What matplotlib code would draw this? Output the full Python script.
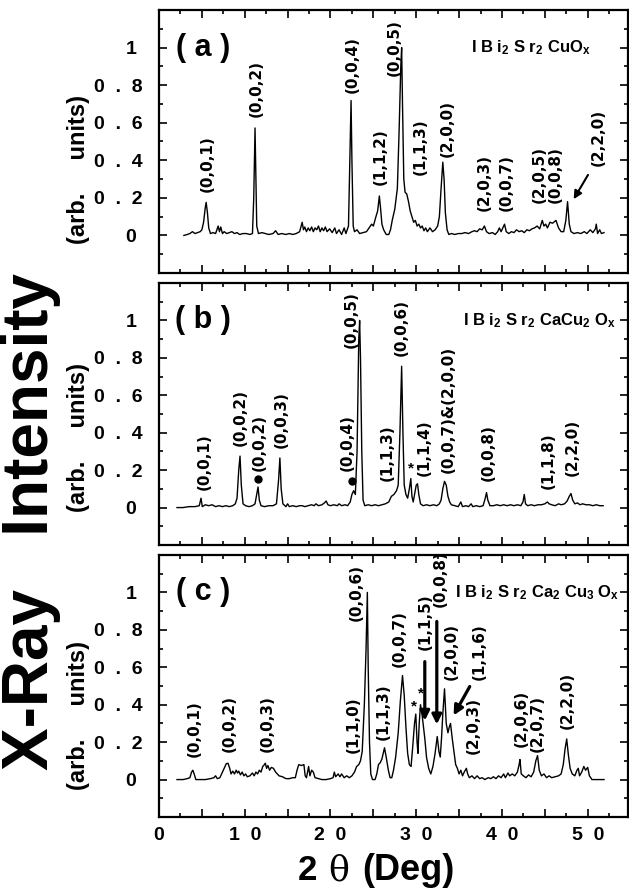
import numpy as np
import matplotlib
matplotlib.use('Agg')
import matplotlib.pyplot as plt
from matplotlib.ticker import MultipleLocator, FixedLocator, FuncFormatter

plt.rcParams['font.family'] = ['Liberation Sans', 'DejaVu Sans']
plt.rcParams['font.weight'] = 'bold'
plt.rcParams['mathtext.fontset'] = 'custom'
plt.rcParams['mathtext.rm'] = 'Liberation Sans:bold'
plt.rcParams['mathtext.it'] = 'Liberation Sans:bold'
plt.rcParams['mathtext.bf'] = 'Liberation Sans:bold'
plt.rcParams['mathtext.default'] = 'rm'

# Datos: 2theta (grados) e intensidad normalizada
x_a = [2.9, 3.3, 3.6, 3.9, 4.2, 4.5, 4.8, 5.0, 5.2, 5.4, 5.5, 5.65, 5.8, 6.0, 6.3, 6.6, 6.9, 7.05, 7.2, 7.4,
       7.6, 7.9, 8.2, 8.5, 8.8, 9.1, 9.4, 9.8, 10.2, 10.6, 10.9, 11.05, 11.2, 11.3, 11.4, 11.6, 12.0, 12.4, 12.8, 13.3,
       13.6, 13.9, 14.3, 14.8, 15.2, 15.6, 16.0, 16.4, 16.7, 16.85, 17.0, 17.2, 17.4, 17.6, 17.8, 18.0, 18.2, 18.4, 18.6, 18.8,
       19.0, 19.2, 19.4, 19.6, 19.9, 20.2, 20.5, 20.7, 21.0, 21.3, 21.6, 21.8, 22.1, 22.3, 22.4, 22.5, 22.65, 22.8, 23.1, 23.4,
       23.8, 24.2, 24.5, 24.8, 25.0, 25.3, 25.5, 25.7, 25.85, 26.0, 26.2, 26.5, 26.8, 27.0, 27.2, 27.5, 27.8, 28.0, 28.2, 28.3,
       28.4, 28.55, 28.7, 28.9, 29.1, 29.3, 29.5, 29.7, 29.9, 30.1, 30.3, 30.5, 30.7, 30.9, 31.1, 31.3, 31.6, 31.9, 32.2, 32.5,
       32.7, 32.9, 33.1, 33.25, 33.4, 33.6, 33.8, 34.1, 34.5, 34.9, 35.3, 35.7, 36.1, 36.5, 36.8, 37.1, 37.4, 37.7, 37.95, 38.2,
       38.5, 38.9, 39.2, 39.5, 39.7, 39.9, 40.3, 40.5, 40.8, 41.1, 41.4, 41.7, 42.0, 42.3, 42.6, 42.9, 43.2, 43.5, 43.8, 44.1,
       44.4, 44.7, 44.9, 45.1, 45.3, 45.6, 45.9, 46.3, 46.6, 46.9, 47.2, 47.45, 47.65, 47.85, 48.05, 48.4, 48.8, 49.2, 49.6, 49.9,
       50.3, 50.6, 50.9, 51.0, 51.15, 51.4, 51.6, 51.9]
y_a = [0.0, 0.005, 0.01, 0.02, 0.01, 0.015, 0.02, 0.03, 0.07, 0.15, 0.176, 0.12, 0.04, 0.01, 0.015, 0.01, 0.05, 0.02, 0.045, 0.01,
       0.02, 0.01, 0.015, 0.02, 0.01, 0.015, 0.005, 0.01, 0.01, 0.005, 0.01, 0.2, 0.572, 0.3, 0.05, 0.01, 0.015, 0.01, 0.005, 0.01,
       0.025, 0.005, 0.01, 0.005, 0.01, 0.005, 0.01, 0.02, 0.07, 0.03, 0.045, 0.02, 0.04, 0.025, 0.045, 0.02, 0.04, 0.03, 0.05, 0.02,
       0.04, 0.025, 0.045, 0.02, 0.035, 0.015, 0.04, 0.01, 0.03, 0.005, 0.04, 0.01, 0.05, 0.5, 0.718, 0.4, 0.05, 0.02, 0.03, 0.01,
       0.015, 0.02, 0.04, 0.06, 0.05, 0.1, 0.13, 0.21, 0.14, 0.06, 0.03, 0.005, 0.005, 0.03, 0.08, 0.14, 0.25, 0.55, 0.9, 1.0,
       0.7, 0.3, 0.23, 0.22, 0.18, 0.13, 0.1, 0.07, 0.08, 0.05, 0.06, 0.04, 0.05, 0.025, 0.04, 0.02, 0.04, 0.02, 0.03, 0.05,
       0.1, 0.25, 0.39, 0.3, 0.12, 0.03, 0.005, 0.01, 0.005, 0.01, 0.01, 0.015, 0.01, 0.02, 0.025, 0.02, 0.035, 0.03, 0.05, 0.02,
       0.01, 0.015, 0.005, 0.02, 0.04, 0.02, 0.06, 0.02, 0.01, 0.02, 0.015, 0.03, 0.02, 0.025, 0.015, 0.03, 0.025, 0.035, 0.04, 0.05,
       0.035, 0.08, 0.05, 0.06, 0.04, 0.07, 0.065, 0.08, 0.04, 0.02, 0.02, 0.08, 0.18, 0.06, 0.02, 0.01, 0.015, 0.01, 0.02, 0.01,
       0.03, 0.015, 0.035, 0.06, 0.01, 0.03, 0.01, 0.015]

x_b = [2.1, 2.8, 3.5, 4.2, 4.7, 4.9, 5.05, 5.4, 5.8, 6.2, 6.6, 7.0, 7.4, 7.8, 8.2, 8.6, 8.9, 9.1, 9.3, 9.45,
       9.6, 9.8, 10.1, 10.5, 10.9, 11.2, 11.4, 11.55, 11.7, 11.9, 12.3, 12.8, 13.3, 13.7, 13.95, 14.1, 14.25, 14.45, 14.8, 15.0,
       15.2, 15.6, 16.0, 16.4, 16.7, 17.0, 17.4, 17.8, 18.1, 18.3, 18.6, 19.0, 19.3, 19.5, 19.7, 20.0, 20.4, 20.8, 21.0, 21.3,
       21.7, 22.0, 22.3, 22.5, 22.7, 22.9, 23.1, 23.3, 23.4, 23.5, 23.65, 23.8, 24.0, 24.4, 24.8, 25.2, 25.6, 26.0, 26.4, 26.8,
       27.1, 27.4, 27.7, 27.9, 28.1, 28.3, 28.45, 28.6, 28.8, 29.0, 29.2, 29.37, 29.5, 29.65, 29.8, 30.0, 30.15, 30.3, 30.5, 30.8,
       31.2, 31.6, 32.0, 32.4, 32.7, 32.9, 33.1, 33.3, 33.5, 33.7, 33.9, 34.1, 34.5, 34.9, 35.2, 35.4, 35.8, 36.1, 36.4, 36.6,
       37.0, 37.4, 37.8, 38.05, 38.2, 38.35, 38.6, 39.0, 39.4, 39.8, 40.2, 40.6, 41.0, 41.4, 41.8, 42.2, 42.45, 42.6, 42.75, 43.0,
       43.4, 43.8, 44.2, 44.6, 45.0, 45.3, 45.5, 45.8, 46.2, 46.6, 46.9, 47.3, 47.6, 47.85, 48.05, 48.25, 48.5, 48.8, 49.1, 49.4,
       49.8, 50.2, 50.6, 51.0, 51.4, 51.8]
y_b = [0.0, 0.0, 0.005, 0.005, 0.01, 0.05, 0.005, 0.015, 0.01, 0.015, 0.005, 0.01, 0.005, 0.01, 0.005, 0.01, 0.02, 0.05, 0.2, 0.275,
       0.12, 0.02, 0.01, 0.005, 0.01, 0.02, 0.07, 0.11, 0.04, 0.01, 0.005, 0.01, 0.01, 0.02, 0.15, 0.265, 0.1, 0.02, 0.005, 0.02,
       0.005, 0.01, 0.005, 0.01, 0.01, 0.005, 0.01, 0.015, 0.01, 0.02, 0.01, 0.015, 0.025, 0.035, 0.015, 0.01, 0.015, 0.01, 0.02, 0.01,
       0.015, 0.01, 0.03, 0.07, 0.09, 0.07, 0.3, 0.9, 1.0, 0.8, 0.3, 0.04, 0.01, 0.015, 0.01, 0.015, 0.01, 0.015, 0.02, 0.03,
       0.06, 0.07, 0.09, 0.12, 0.4, 0.755, 0.4, 0.12, 0.07, 0.05, 0.1, 0.155, 0.06, 0.03, 0.07, 0.12, 0.127, 0.07, 0.02, 0.01,
       0.015, 0.01, 0.015, 0.01, 0.02, 0.04, 0.1, 0.14, 0.12, 0.06, 0.03, 0.015, 0.01, 0.005, 0.03, 0.005, 0.01, 0.005, 0.02, 0.005,
       0.01, 0.005, 0.01, 0.05, 0.08, 0.04, 0.01, 0.01, 0.015, 0.01, 0.015, 0.01, 0.015, 0.01, 0.015, 0.01, 0.03, 0.07, 0.02, 0.01,
       0.015, 0.01, 0.015, 0.015, 0.02, 0.03, 0.02, 0.015, 0.01, 0.02, 0.015, 0.02, 0.035, 0.06, 0.075, 0.04, 0.02, 0.025, 0.015, 0.02,
       0.015, 0.015, 0.01, 0.015, 0.01, 0.01]

x_c = [2.1, 2.8, 3.3, 3.6, 3.8, 3.95, 4.1, 4.3, 4.8, 5.4, 6.0, 6.4, 6.6, 6.8, 7.1, 7.3, 7.6, 7.85, 8.05, 8.25,
       8.4, 8.6, 8.8, 9.0, 9.15, 9.3, 9.5, 9.7, 9.9, 10.1, 10.3, 10.6, 10.9, 11.1, 11.3, 11.5, 11.7, 11.9, 12.1, 12.3,
       12.4, 12.55, 12.7, 12.9, 13.1, 13.35, 13.6, 13.8, 14.0, 14.4, 14.8, 15.2, 15.6, 15.9, 16.1, 16.3, 16.6, 16.9, 17.05, 17.2,
       17.45, 17.6, 17.8, 18.0, 18.2, 18.6, 19.0, 19.5, 20.0, 20.3, 20.45, 20.6, 20.9, 21.1, 21.3, 21.6, 21.9, 22.2, 22.5, 22.8,
       23.05, 23.3, 23.5, 23.7, 23.95, 24.15, 24.3, 24.4, 24.55, 24.7, 24.9, 25.2, 25.4, 25.6, 25.8, 26.0, 26.3, 26.5, 26.75, 26.95,
       27.15, 27.35, 27.6, 27.9, 28.15, 28.4, 28.6, 28.8, 29.0, 29.2, 29.4, 29.6, 29.8, 29.95, 30.1, 30.2, 30.35, 30.5, 30.65, 30.8,
       31.0, 31.2, 31.45, 31.7, 31.95, 32.2, 32.45, 32.65, 32.8, 32.95, 33.1, 33.3, 33.5, 33.7, 33.85, 34.0, 34.2, 34.4, 34.6, 34.8,
       35.0, 35.2, 35.4, 35.6, 35.85, 36.0, 36.2, 36.5, 36.8, 37.1, 37.4, 37.7, 38.0, 38.4, 38.7, 39.0, 39.3, 39.6, 39.9, 40.2,
       40.4, 40.7, 40.9, 41.2, 41.5, 41.8, 42.0, 42.1, 42.25, 42.5, 42.8, 43.1, 43.4, 43.7, 43.95, 44.15, 44.35, 44.6, 44.9, 45.2,
       45.5, 45.8, 46.2, 46.6, 46.9, 47.15, 47.35, 47.55, 47.75, 47.95, 48.2, 48.5, 48.75, 48.9, 49.05, 49.3, 49.55, 49.75, 50.0, 50.2,
       50.5, 51.0, 51.5, 51.9]
y_c = [0.0, 0.0, 0.005, 0.01, 0.04, 0.05, 0.03, 0.0, 0.0, 0.0, 0.005, 0.01, 0.02, 0.005, 0.01, 0.03, 0.06, 0.085, 0.087, 0.06,
       0.03, 0.045, 0.03, 0.05, 0.035, 0.045, 0.025, 0.04, 0.02, 0.03, 0.015, 0.02, 0.035, 0.02, 0.04, 0.03, 0.05, 0.04, 0.07, 0.08,
       0.087, 0.06, 0.075, 0.05, 0.065, 0.06, 0.04, 0.03, 0.02, 0.015, 0.005, 0.005, 0.01, 0.01, 0.05, 0.08, 0.075, 0.08, 0.02, 0.01,
       0.07, 0.02, 0.05, 0.04, 0.01, 0.005, 0.0, 0.0, 0.005, 0.01, 0.04, 0.015, 0.03, 0.015, 0.03, 0.01, 0.02, 0.01, 0.02, 0.04,
       0.07, 0.08, 0.1, 0.15, 0.4, 0.7, 1.0, 0.6, 0.2, 0.03, 0.0, 0.0, 0.03, 0.08, 0.09, 0.11, 0.17, 0.12, 0.05, 0.01,
       0.01, 0.05, 0.12, 0.25, 0.42, 0.556, 0.45, 0.28, 0.14, 0.08, 0.07, 0.18, 0.3, 0.35, 0.2, 0.14, 0.3, 0.4, 0.36, 0.3,
       0.22, 0.12, 0.06, 0.03, 0.07, 0.14, 0.23, 0.15, 0.12, 0.22, 0.35, 0.485, 0.3, 0.25, 0.28, 0.3, 0.22, 0.15, 0.08, 0.06,
       0.03, 0.05, 0.02, 0.04, 0.06, 0.03, 0.01, 0.02, 0.005, 0.02, 0.005, 0.01, 0.0, 0.01, 0.005, 0.015, 0.005, 0.02, 0.01, 0.03,
       0.01, 0.035, 0.02, 0.03, 0.02, 0.04, 0.08, 0.107, 0.03, 0.02, 0.01, 0.025, 0.015, 0.04, 0.1, 0.128, 0.05, 0.02, 0.03, 0.01,
       0.02, 0.01, 0.015, 0.02, 0.03, 0.08, 0.16, 0.217, 0.13, 0.06, 0.03, 0.02, 0.05, 0.06, 0.02, 0.04, 0.07, 0.05, 0.065, 0.02,
       0.0, 0.0, 0.0, 0.0]

# Etiquetas de los picos: (texto, posicion x, y inferior)
labels_a = [('(0,0,1)', 5.6, 0.23), ('(0,0,2)', 11.3, 0.63), ('(0,0,4)', 22.5, 0.76), ('(1,1,2)', 25.8, 0.27),
            ('(0,0,5)', 27.4, 0.85), ('(1,1,3)', 30.5, 0.32), ('(2,0,0)', 33.65, 0.415), ('(2,0,3)', 37.9, 0.13),
            ('(0,0,7)', 40.5, 0.13), ('(2,0,5)', 44.3, 0.17), ('(0,0,8)', 46.2, 0.17), ('(2,2,0)', 51.2, 0.37)]
labels_b = [('(0,0,1)', 5.25, 0.093), ('(0,0,2)', 9.5, 0.33), ('(0,0,2)', 11.7, 0.195), ('(0,0,3)', 14.2, 0.32),
            ('(0,0,4)', 22.0, 0.195), ('(0,0,5)', 22.4, 0.854), ('(1,1,3)', 26.65, 0.14), ('(0,0,6)', 28.2, 0.81),
            ('(1,1,4)', 30.9, 0.17), ('(0,0,7)&(2,0,0)', 33.77, 0.187), ('(0,0,8)', 38.4, 0.14),
            ('(1,1,8)', 45.4, 0.097), ('(2,2,0)', 48.2, 0.17)]
labels_c = [('(0,0,1)', 4.1, 0.12), ('(0,0,2)', 8.25, 0.146), ('(0,0,3)', 12.65, 0.146), ('(1,1,0)', 22.65, 0.14),
            ('(0,0,6)', 23.0, 0.85), ('(1,1,3)', 26.15, 0.21), ('(0,0,7)', 28.0, 0.6), ('(1,1,5)', 31.1, 0.69),
            ('(0,0,8)', 32.8, 0.92), ('(2,0,0)', 34.04, 0.53), ('(1,1,6)', 37.35, 0.53), ('(2,0,3)', 36.6, 0.137),
            ('(2,0,6)', 42.2, 0.173), ('(2,0,7)', 44.15, 0.146), ('(2,2,0)', 47.66, 0.27)]

# Flechas (inicio, punta) y marcas de impurezas
arrows_a = [((50.2, 0.335), (48.2, 0.18))]
arrows_c = [((31.0, 0.645), (31.0, 0.30)), ((32.4, 0.86), (32.4, 0.28)), ((36.4, 0.51), (34.2, 0.33))]
dots_b = [(11.6, 0.15), (22.5, 0.14)]
stars_b = [(29.4, 0.21)]
stars_c = [(29.75, 0.39), (30.54, 0.46)]

compounds = [r'I B i$_2$ S r$_2$ CuO$_x$', r'I B i$_2$ S r$_2$ CaCu$_2$ O$_x$',
             r'I B i$_2$ S r$_2$ Ca$_2$ Cu$_3$ O$_x$']
compound_x = [50.4, 53.3, 53.7]
panel_tags = ['( a )', '( b )', '( c )']

W, H = 629, 888
fig = plt.figure(figsize=(W / 100, H / 100), dpi=100)

# posiciones de los paneles en pixeles (arriba, abajo)
boxes = [(10, 273), (283, 545), (555, 817)]
axes = []
for top, bot in boxes:
    ax = fig.add_axes([159 / W, 1 - bot / H, 469 / W, (bot - top) / H])
    axes.append(ax)


def xfmt(v, pos):
    v = int(round(v))
    if v % 10 != 0 or v > 50:
        return ''
    if v == 0:
        return '0'
    return '  '.join(str(v))


def yfmt(v, pos):
    if abs(v) < 1e-6:
        return '0 '
    if abs(v - 1) < 1e-6:
        return '1 '
    return '0  .  ' + str(int(round(v * 10)))


datasets = [(x_a, y_a), (x_b, y_b), (x_c, y_c)]
all_labels = [labels_a, labels_b, labels_c]

for i, ax in enumerate(axes):
    xs, ys = datasets[i]
    ax.plot(xs, ys, color='black', lw=1.0)
    ax.set_xlim(0, 54.7)
    ax.set_ylim(-0.2, 1.2)
    ax.xaxis.set_major_locator(MultipleLocator(5))
    ax.xaxis.set_minor_locator(MultipleLocator(2.5))
    ax.xaxis.set_major_formatter(FuncFormatter(xfmt))
    ax.yaxis.set_major_locator(FixedLocator([0, 0.2, 0.4, 0.6, 0.8, 1.0]))
    ax.yaxis.set_minor_locator(FixedLocator([-0.1, 0.1, 0.3, 0.5, 0.7, 0.9, 1.1]))
    ax.yaxis.set_major_formatter(FuncFormatter(yfmt))
    ax.tick_params(which='both', direction='in', top=True, right=True, width=1.2)
    ax.tick_params(which='major', length=6)
    ax.tick_params(which='minor', length=3)
    ax.tick_params(axis='y', labelsize=14, pad=12)
    ax.tick_params(axis='x', labelsize=14, pad=7)
    if i < 2:
        ax.tick_params(axis='x', labelbottom=False)
    for s in ax.spines.values():
        s.set_linewidth(1.6)

    for txt, px, py in all_labels[i]:
        ax.text(px, py, txt, rotation=90, ha='center', va='bottom', fontsize=11,
                family='DejaVu Sans', fontweight='bold')

    ax.text(5.1, 1.0, panel_tags[i], fontsize=22, ha='center', va='center')
    ax.text(compound_x[i], 1.0, compounds[i], fontsize=12, ha='right', va='center')

    # etiqueta de unidades de cada panel
    ycen = [170, 438, 715][i]
    fig.text(78 / W, 1 - ycen / H, '(arb.     units)', rotation=90, ha='center', va='center', fontsize=17)

for (x0, y0), (x1, y1) in arrows_a:
    axes[0].annotate('', xy=(x1, y1), xytext=(x0, y0),
                     arrowprops=dict(arrowstyle='-|>', color='black', lw=1.5, mutation_scale=12))
for (x0, y0), (x1, y1) in arrows_c:
    axes[2].annotate('', xy=(x1, y1), xytext=(x0, y0),
                     arrowprops=dict(arrowstyle='-|>', color='black', lw=2.3, mutation_scale=14))
for px, py in dots_b:
    axes[1].plot(px, py, 'o', color='black', ms=5)
for px, py in stars_b:
    axes[1].text(px, py, '*', ha='center', va='center', fontsize=11)
for px, py in stars_c:
    axes[2].text(px, py, '*', ha='center', va='center', fontsize=11)

# Etiquetas de los ejes
fig.text(31 / W, 1 - 522 / H, 'X-Ray   Intensity', rotation=90, ha='center', va='center', fontsize=46)
fig.text(298 / W, 1 - 880 / H, '2', fontsize=25, ha='left', va='baseline')
fig.text(328 / W, 1 - 880 / H, 'θ', fontsize=25, ha='left', va='baseline', family='DejaVu Serif',
         fontweight='normal')
fig.text(362 / W, 1 - 880 / H, '(Deg)', fontsize=26, ha='left', va='baseline')

plt.savefig('out.png', dpi=100)
